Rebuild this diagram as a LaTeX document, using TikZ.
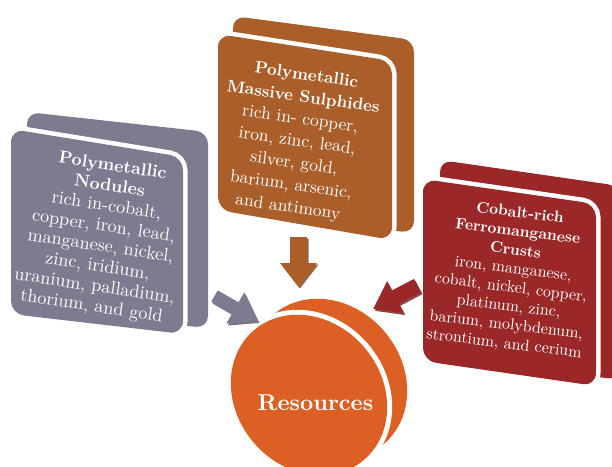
\documentclass[tikz,border=0pt]{standalone}
\usepackage{fontspec}
\setmainfont{lmroman10-regular.otf}[BoldFont=lmroman10-bold.otf]
\definecolor{cgray}{HTML}{7F7A8F}
\definecolor{cbrown}{HTML}{AA5F2A}
\definecolor{cred}{HTML}{9A2828}
\definecolor{corange}{HTML}{DC5F24}
\tikzset{
  halo/.style={preaction={draw=white, line width=9pt}},
  boxtext/.style={text=white, align=center, inner sep=0pt},
  blockarrow/.style={fill=#1},
  arrowshade/.style={fill=#1!70!black, opacity=0.8},
}
\newcommand{\arrowpath}[4]{(0,#4/2) -- (#1-#2,#4/2) -- (#1-#2,#3/2) -- (#1,0) -- (#1-#2,-#3/2) -- (#1-#2,-#4/2) -- (0,-#4/2) -- cycle}
\begin{document}
\begin{tikzpicture}[x=1pt,y=-1pt]
\useasboundingbox (0,0) rectangle (612,466);

% ---------- gray box ----------
\fill[cgray, rounded corners=12pt] (27,112) -- (208,132) -- (208,328) -- (27,310) -- cycle;
\fill[cgray, rounded corners=13pt, halo] (11,129) -- (183,157) -- (183,334) -- (11,314) -- cycle;

% ---------- brown box ----------
\fill[cbrown, rounded corners=12pt] (233,16) -- (414,40) -- (414,233) -- (233,212) -- cycle;
\fill[cbrown, rounded corners=13pt, halo] (218,34) -- (392,61) -- (392,240) -- (218,210) -- cycle;

% ---------- red box ----------
\fill[cred, rounded corners=12pt] (440,160) -- (620,186) -- (620,380) -- (440,355) -- cycle;
\fill[cred, rounded corners=13pt, halo] (423,179) -- (596,204) -- (596,386) -- (423,361) -- cycle;

% ---------- circle ----------
\begin{scope}[shift={(329,379)}, rotate=-50]
  \fill[corange] (0,0) ellipse [x radius=85pt, y radius=73pt];
\end{scope}
\begin{scope}[shift={(309,395)}, rotate=-50]
  \fill[white] (0,0) ellipse [x radius=90pt, y radius=78pt];
  \fill[corange] (0,0) ellipse [x radius=85pt, y radius=73pt];
\end{scope}

% ---------- arrows ----------
\begin{scope}[shift={(216,298)}, rotate=-29.9]
  \fill[arrowshade=cgray] \arrowpath{50}{26}{36}{13};
\end{scope}
\begin{scope}[shift={(214.5,296)}, rotate=-29.9]
  \fill[blockarrow=cgray] \arrowpath{50}{26}{36}{13};
\end{scope}

\begin{scope}[shift={(300,238.5)}, rotate=-90]
  \fill[arrowshade=cbrown] \arrowpath{50}{24}{37}{17};
\end{scope}
\begin{scope}[shift={(298.5,237)}, rotate=-90]
  \fill[blockarrow=cbrown] \arrowpath{50}{24}{37}{17};
\end{scope}

\begin{scope}[shift={(419,287.5)}, rotate=-152.2]
  \fill[arrowshade=cred] \arrowpath{50}{25}{36}{15};
\end{scope}
\begin{scope}[shift={(417.5,285.5)}, rotate=-152.2]
  \fill[blockarrow=cred] \arrowpath{50}{25}{36}{15};
\end{scope}

% ---------- texts ----------
\node[boxtext, rotate=-8.5, font=\fontsize{18.2}{20.3}\selectfont] (nodules) at (102,237)
  {{\fontsize{17.5}{20.3}\selectfont\bfseries Polymetallic}\\
   {\fontsize{17.5}{20.3}\selectfont\bfseries Nodules}\\
   rich in-cobalt,\\ copper, iron, lead,\\ manganese, nickel,\\
   zinc, iridium,\\ uranium, palladium,\\ thorium, and gold};

\node[boxtext, rotate=-8, font=\fontsize{17.5}{22.2}\selectfont] (sulphides) at (297,142)
  {{\fontsize{16.8}{22.2}\selectfont\bfseries Polymetallic}\\
   {\fontsize{16.8}{22.2}\selectfont\bfseries Massive Sulphides}\\
   rich in- copper,\\ iron, zinc, lead,\\ silver, gold,\\
   barium, arsenic,\\ and antimony};

\node[boxtext, rotate=-7, font=\fontsize{16}{18.8}\selectfont] (crusts) at (512,279)
  {{\fontsize{15.5}{18.8}\selectfont\bfseries Cobalt-rich}\\
   {\fontsize{15.5}{18.8}\selectfont\bfseries Ferromanganese}\\
   {\fontsize{15.5}{18.8}\selectfont\bfseries Crusts}\\
   iron, manganese,\\ cobalt, nickel, copper,\\ platinum, zinc,\\
   barium, molybdenum,\\ strontium, and cerium};

\node[boxtext, font=\fontsize{23}{27}\selectfont\bfseries] (resources) at (315.5,403) {Resources};
\end{tikzpicture}
\end{document}
